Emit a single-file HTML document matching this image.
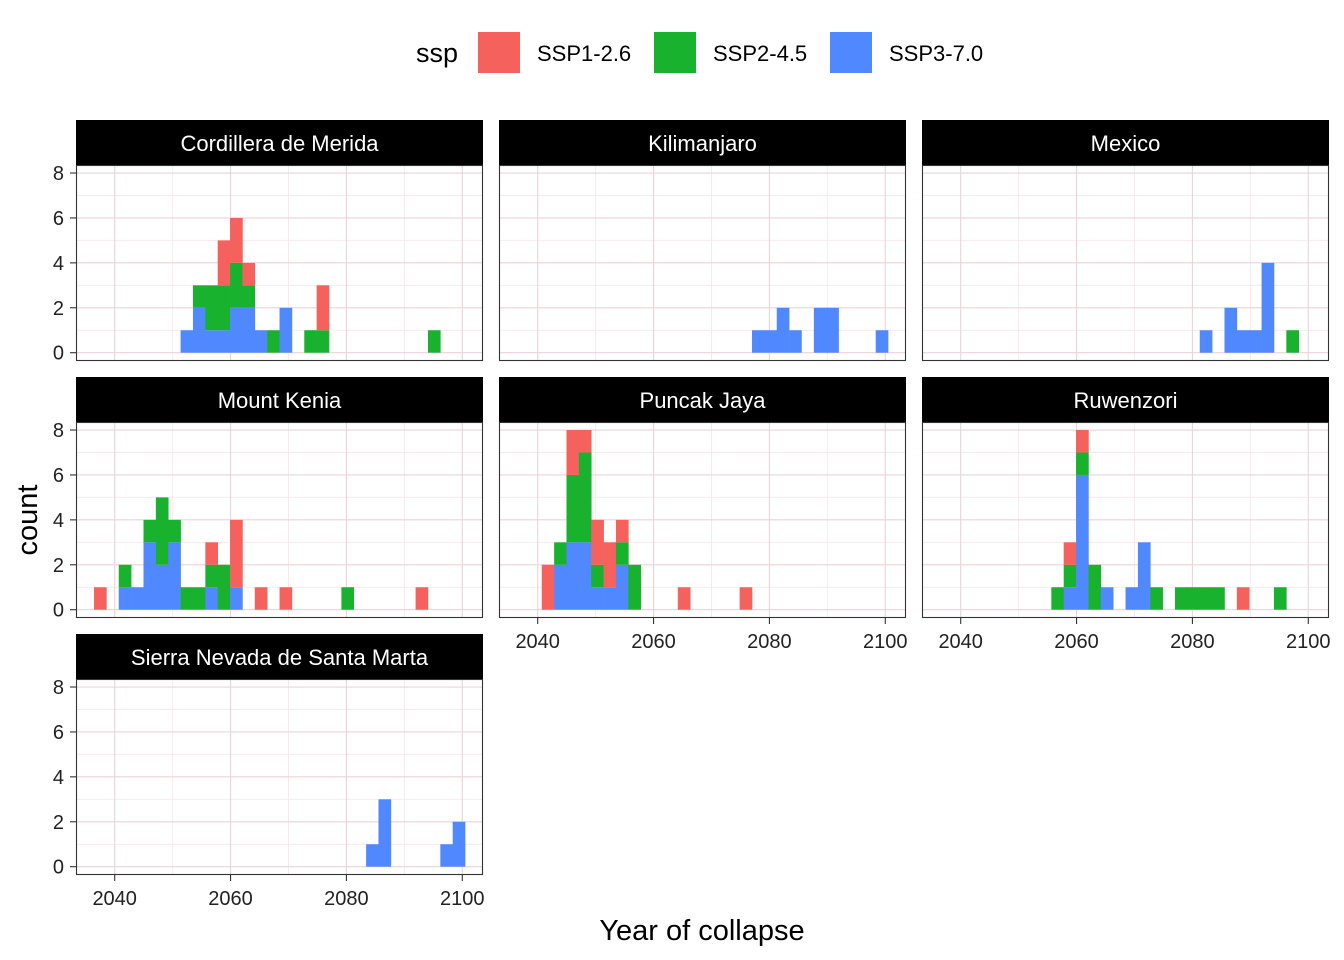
<!DOCTYPE html>
<html><head><meta charset="utf-8">
<style>
html,body{margin:0;padding:0;background:#fff;}
svg{display:block;font-family:"Liberation Sans",Arial,sans-serif;}
</style></head>
<body>
<svg id="chart" width="1344" height="960" viewBox="0 0 1344 960" xmlns="http://www.w3.org/2000/svg">
  <g>
    <text x="416" y="62" font-size="27" fill="#000">ssp</text>
    <rect x="478" y="32" width="42" height="41" fill="#F5615C"/>
    <text x="537" y="61" font-size="22">SSP1-2.6</text>
    <rect x="654" y="32" width="42" height="41" fill="#19B22F"/>
    <text x="713" y="61" font-size="22">SSP2-4.5</text>
    <rect x="830" y="32" width="42" height="41" fill="#5088FF"/>
    <text x="889" y="61" font-size="22">SSP3-7.0</text>
  </g>
  <text transform="translate(37,520) rotate(-90)" text-anchor="middle" font-size="29">count</text>
  <text x="702" y="940" text-anchor="middle" font-size="29">Year of collapse</text>
  <g id="panels"></g>
</svg>
<script>
// bins: start year and width
const binStart = 2036.43;
const binWidth = 2.135;
const xTicks = [2040, 2060, 2080, 2100];
const xMinor = [2050, 2070, 2090];
const yTicks = [0, 2, 4, 6, 8];
const seriesNames = ["SSP3-7.0", "SSP2-4.5", "SSP1-2.6"];
const panelNames = ["Cordillera de Merida","Kilimanjaro","Mexico","Mount Kenia","Puncak Jaya","Ruwenzori","Sierra Nevada de Santa Marta"];
//              0 1 2 3 4 5 6 7 8 9 0 1 2 3 4 5 6 7 8 9 0 1 2 3 4 5 6 7 8 9
const cordBlue  =[0,0,0,0,0,0,0,1,2,1,1,2,2,1,0,2,0,0,0,0,0,0,0,0,0,0,0,0,0,0];
const cordGreen =[0,0,0,0,0,0,0,0,1,2,2,2,1,0,1,0,0,1,1,0,0,0,0,0,0,0,0,1,0,0];
const cordRed   =[0,0,0,0,0,0,0,0,0,0,2,2,1,0,0,0,0,0,2,0,0,0,0,0,0,0,0,0,0,0];
const kiliBlue  =[0,0,0,0,0,0,0,0,0,0,0,0,0,0,0,0,0,0,0,1,1,2,1,0,2,2,0,0,0,1];
const kiliGreen =[0,0,0,0,0,0,0,0,0,0,0,0,0,0,0,0,0,0,0,0,0,0,0,0,0,0,0,0,0,0];
const kiliRed   =[0,0,0,0,0,0,0,0,0,0,0,0,0,0,0,0,0,0,0,0,0,0,0,0,0,0,0,0,0,0];
const mexBlue   =[0,0,0,0,0,0,0,0,0,0,0,0,0,0,0,0,0,0,0,0,0,1,0,2,1,1,4,0,0,0];
const mexGreen  =[0,0,0,0,0,0,0,0,0,0,0,0,0,0,0,0,0,0,0,0,0,0,0,0,0,0,0,0,1,0];
const mexRed    =[0,0,0,0,0,0,0,0,0,0,0,0,0,0,0,0,0,0,0,0,0,0,0,0,0,0,0,0,0,0];
const kenBlue   =[0,0,1,1,3,2,3,0,0,1,0,1,0,0,0,0,0,0,0,0,0,0,0,0,0,0,0,0,0,0];
const kenGreen  =[0,0,1,0,1,3,1,1,1,1,2,0,0,0,0,0,0,0,0,0,1,0,0,0,0,0,0,0,0,0];
const kenRed    =[1,0,0,0,0,0,0,0,0,1,0,3,0,1,0,1,0,0,0,0,0,0,0,0,0,0,1,0,0,0];
const punBlue   =[0,0,0,2,3,3,1,1,2,0,0,0,0,0,0,0,0,0,0,0,0,0,0,0,0,0,0,0,0,0];
const punGreen  =[0,0,0,1,3,4,1,0,1,2,0,0,0,0,0,0,0,0,0,0,0,0,0,0,0,0,0,0,0,0];
const punRed    =[0,0,2,0,2,1,2,2,1,0,0,0,0,1,0,0,0,0,1,0,0,0,0,0,0,0,0,0,0,0];
const ruwBlue   =[0,0,0,0,0,0,0,0,0,0,1,6,0,1,0,1,3,0,0,0,0,0,0,0,0,0,0,0,0,0];
const ruwGreen  =[0,0,0,0,0,0,0,0,0,1,1,1,2,0,0,0,0,1,0,1,1,1,1,0,0,0,0,1,0,0];
const ruwRed    =[0,0,0,0,0,0,0,0,0,0,1,1,0,0,0,0,0,0,0,0,0,0,0,0,1,0,0,0,0,0];
const sierBlue  =[0,0,0,0,0,0,0,0,0,0,0,0,0,0,0,0,0,0,0,0,0,0,1,3,0,0,0,0,1,2];
const sierGreen =[0,0,0,0,0,0,0,0,0,0,0,0,0,0,0,0,0,0,0,0,0,0,0,0,0,0,0,0,0,0];
const sierRed   =[0,0,0,0,0,0,0,0,0,0,0,0,0,0,0,0,0,0,0,0,0,0,0,0,0,0,0,0,0,0];

const panelSeries = [
  [cordBlue,cordGreen,cordRed],[kiliBlue,kiliGreen,kiliRed],[mexBlue,mexGreen,mexRed],
  [kenBlue,kenGreen,kenRed],[punBlue,punGreen,punRed],[ruwBlue,ruwGreen,ruwRed],
  [sierBlue,sierGreen,sierRed]
];
const colors = ["#5088FF","#19B22F","#F5615C"];
const NS = "http://www.w3.org/2000/svg";
const root = document.getElementById("panels");
const colX = [76, 499, 922];
const rowY = [120, 377, 634];
const panelW = 407, stripH = 45, plotH = 196;

function mk(tag, attrs, parent){
  const e = document.createElementNS(NS, tag);
  for (const k in attrs) e.setAttribute(k, attrs[k]);
  parent.appendChild(e);
  return e;
}
function slug(s){return s.toLowerCase().replace(/[^a-z0-9]+/g,'-');}

panelNames.forEach((name, p) => {
  const col = p % 3, row = Math.floor(p / 3);
  const L = colX[col], T = rowY[row];
  const pt = T + stripH; // plot top
  const xs = yr => L + 38.7 + (yr - 2040) * 5.793;
  const ys = v => pt + 187.7 - v * 22.46;
  const g = mk("g", {}, root);
  
  
  const strip = mk("rect", {x:L, y:T, width:panelW, height:stripH, fill:"#000"}, g);
  
  
  const st = mk("text", {x:L+panelW/2, y:T+31, "text-anchor":"middle", "font-size":"22", fill:"#fff"}, g);
  st.textContent = name;
  
  
  mk("rect", {x:L, y:pt, width:panelW, height:plotH, fill:"#fff"}, g);
  xMinor.forEach(v => { const l = mk("line", {x1:xs(v), x2:xs(v), y1:pt, y2:pt+plotH, stroke:"#f9e9ed", "stroke-width":1}, g);
      });
  [1,3,5,7].forEach(v => { const l = mk("line", {x1:L, x2:L+panelW, y1:ys(v), y2:ys(v), stroke:"#f9e9ed", "stroke-width":1}, g);
      });
  xTicks.forEach(v => { const l = mk("line", {x1:xs(v), x2:xs(v), y1:pt, y2:pt+plotH, stroke:"#ebd3d9", "stroke-width":1.1}, g);
      });
  yTicks.forEach(v => { const l = mk("line", {x1:L, x2:L+panelW, y1:ys(v), y2:ys(v), stroke:"#ebd3d9", "stroke-width":1.1}, g);
      });
  const ser = panelSeries[p];
  for (let b = 0; b < 30; b++) {
    let base = 0;
    ser.forEach((arr, s) => {
      const v = arr[b];
      if (v > 0) {
        const x0 = xs(binStart + b * binWidth), x1 = xs(binStart + (b + 1) * binWidth);
        const r = mk("rect", {x:x0, y:ys(base+v), width:x1-x0+0.3, height:ys(base)-ys(base+v), fill:colors[s]}, g);
        
        
        base += v;
      }
    });
  }
  mk("rect", {x:L+0.5, y:pt+0.5, width:panelW-1, height:plotH-1, fill:"none", stroke:"#333", "stroke-width":1.1}, g);
  if (col === 0) {
    yTicks.forEach(v => {
      const tk = mk("line", {x1:L-6, x2:L, y1:ys(v), y2:ys(v), stroke:"#333", "stroke-width":1.1}, g);
       
      const t = mk("text", {x:L-12, y:ys(v)+7, "text-anchor":"end", "font-size":"20", fill:"#222"}, g);
      t.textContent = v;
       
    });
  }
  if (p >= 4) {
    xTicks.forEach(v => {
      const tk = mk("line", {x1:xs(v), x2:xs(v), y1:pt+plotH, y2:pt+plotH+6, stroke:"#333", "stroke-width":1.1}, g);
       
      const t = mk("text", {x:xs(v), y:pt+plotH+30, "text-anchor":"middle", "font-size":"20", fill:"#222"}, g);
      t.textContent = v;
       
    });
  }
});
</script>
</body></html>
